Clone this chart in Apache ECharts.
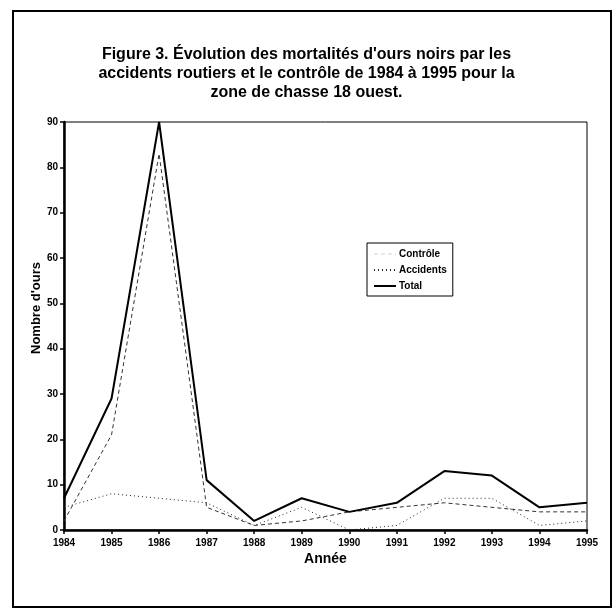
<!DOCTYPE html>
<html>
<head>
<meta charset="utf-8">
<script src="https://cdn.jsdelivr.net/npm/echarts@6/dist/echarts.min.js"></script>
<style>
html,body{margin:0;padding:0;background:#fff;}
#chart{width:613px;height:608px;}
</style>
</head>
<body>
<div id="chart"></div>
<script>
var years = ['1984','1985','1986','1987','1988','1989','1990','1991','1992','1993','1994','1995'];
var controle = [2, 21, 83, 5, 1, 2, 4, 5, 6, 5, 4, 4];
var accidents = [5, 8, 7, 6, 1, 5, 0, 1, 7, 7, 1, 2];
var total = [7, 29, 90, 11, 2, 7, 4, 6, 13, 12, 5, 6];
var yTicks = [0, 10, 20, 30, 40, 50, 60, 70, 80, 90];

var FONT = '"Liberation Sans", Arial, sans-serif';
var chart = echarts.init(document.getElementById('chart'), null, {renderer: 'canvas'});
chart.setOption({
  backgroundColor: '#fff',
  animation: false,
  title: {
    text: "Figure 3. Évolution des mortalités d'ours noirs par les\naccidents routiers et le contrôle de 1984 à 1995 pour la\nzone de chasse 18 ouest.",
    left: 'center',
    top: 40,
    textStyle: {fontFamily: FONT, fontWeight: 'bold', fontSize: 16, lineHeight: 19, color: '#000', align: 'center'}
  },
  graphic: [{
    type: 'rect',
    shape: {x: 13, y: 11, width: 598, height: 596},
    style: {fill: 'none', stroke: '#000', lineWidth: 2},
    silent: true
  }],
  legend: {
    orient: 'vertical',
    left: 367,
    top: 243,
    data: [
      {name: 'Contrôle', lineStyle: {color: '#e6e6e6'}, itemStyle: {opacity: 0}},
      {name: 'Accidents', itemStyle: {opacity: 0}},
      {name: 'Total', itemStyle: {opacity: 0}}
    ],
    backgroundColor: '#fff',
    borderColor: '#000',
    borderWidth: 1,
    borderRadius: 0,
    padding: [6, 6, 5, 6],
    itemWidth: 22,
    itemHeight: 12,
    itemGap: 6,
    textStyle: {fontFamily: FONT, fontWeight: 'bold', fontSize: 10, color: '#000', padding: [0, 0, 0, -2]}
  },
  grid: {
    left: 64, right: 26, top: 122, bottom: 78,
    show: true, borderColor: '#000', borderWidth: 1, backgroundColor: 'transparent'
  },
  xAxis: {
    type: 'category',
    data: years,
    boundaryGap: false,
    name: 'Année',
    nameLocation: 'middle',
    nameGap: 22,
    nameMoveOverlap: false,
    nameTextStyle: {fontFamily: FONT, fontWeight: 'bold', fontSize: 14, color: '#000'},
    axisLine: {lineStyle: {color: '#000', width: 2.5}},
    axisTick: {show: true, alignWithLabel: true, length: 4, inside: false, lineStyle: {color: '#000', width: 1.5}},
    axisLabel: {fontFamily: FONT, fontWeight: 'bold', fontSize: 10, color: '#000', margin: 8},
    splitLine: {show: false}
  },
  yAxis: {
    type: 'value',
    min: 0, max: 90, interval: 10,
    name: "Nombre d'ours",
    nameLocation: 'middle',
    nameGap: 21,
    nameRotate: 90,
    nameMoveOverlap: false,
    nameTextStyle: {fontFamily: FONT, fontWeight: 'bold', fontSize: 13, color: '#000', padding: [0, 0, 0, 36]},
    axisLine: {show: true, lineStyle: {color: '#000', width: 2.5}},
    axisTick: {show: true, length: 4, lineStyle: {color: '#000', width: 1.5}},
    axisLabel: {fontFamily: FONT, fontWeight: 'bold', fontSize: 10, color: '#000', margin: 6,
      formatter: function (v) { return yTicks.indexOf(v) >= 0 ? String(v) : ''; }},
    splitLine: {show: false}
  },
  series: [
    {
      name: 'Contrôle', type: 'line', data: controle, symbol: 'none',
      itemStyle: {color: '#333'},
      lineStyle: {color: '#333', width: 1, type: [4, 3]}, z: 3
    },
    {
      name: 'Accidents', type: 'line', data: accidents, symbol: 'none',
      itemStyle: {color: '#222'},
      lineStyle: {color: '#222', width: 1, type: [1, 3]}, z: 3
    },
    {
      name: 'Total', type: 'line', data: total, symbol: 'none',
      itemStyle: {color: '#000'},
      lineStyle: {color: '#000', width: 2}, z: 4
    }
  ]
});
</script>
</body>
</html>
